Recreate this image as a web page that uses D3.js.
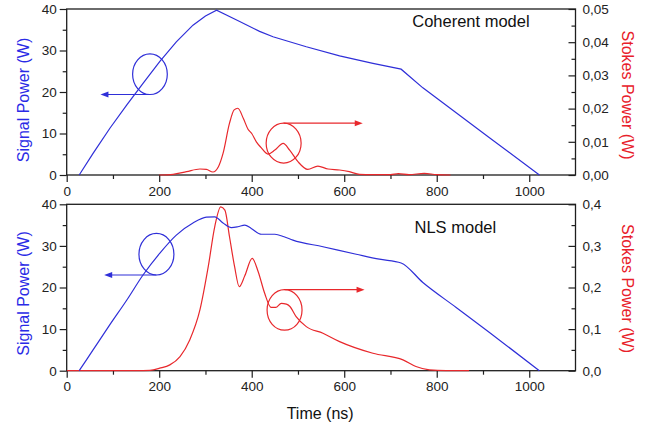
<!DOCTYPE html>
<html>
<head>
<meta charset="utf-8">
<script src="https://cdn.jsdelivr.net/npm/d3@7"></script>
<style>
  html, body { margin: 0; padding: 0; background: #fff; }
  svg { display: block; font-family: Arial, "Liberation Sans", sans-serif; }
</style>
</head>
<body>
<svg id="chart" width="656" height="429"></svg>
<script>
// ---- tick values ----
const timeMajorTicks = [0, 200, 400, 600, 800, 1000];
const timeMinorTicks = [100, 300, 500, 700, 900];
const signalMajorTicks = [0, 10, 20, 30, 40];
const signalMinorTicks = [5, 15, 25, 35];
const coherentStokesMajorTicks = [0, 0.01, 0.02, 0.03, 0.04, 0.05];
const coherentStokesMinorTicks = [0.005, 0.015, 0.025, 0.035, 0.045];
const nlsStokesMajorTicks = [0, 0.1, 0.2, 0.3, 0.4];
const nlsStokesMinorTicks = [0.05, 0.15, 0.25, 0.35];

// ---- series: [time (ns), power (W)] ----
const coherentSignal = [
  [27, 0], [57, 5.2], [93, 11.2], [130, 16.9], [165, 22.1], [201, 27.3],
  [237, 32.1], [273, 36.1], [300, 38.3], [324, 39.7], [374, 37.0], [417, 34.6],
  [446, 33.3], [518, 30.9], [590, 28.7], [662, 26.9], [723, 25.5], [770, 21.0],
  [842, 15.0], [914, 9.0], [1022, 0]
];
const coherentStokes = [
  [200, 0], [230, 0.0002], [259, 0.001], [288, 0.0018], [302, 0.0017], [316, 0.0009],
  [328, 0.0025], [338, 0.0065], [352, 0.0156], [362, 0.0196], [370, 0.0201],
  [382, 0.0170], [392, 0.0138], [400, 0.0125], [410, 0.0100], [420, 0.0083],
  [435, 0.0063], [450, 0.0075], [468, 0.0095], [482, 0.0075], [500, 0.0040],
  [521, 0.0017], [543, 0.0027], [565, 0.0018], [590, 0.0015], [611, 0.0010],
  [633, 0.0002], [660, 0.0001], [700, 0.0001], [717, 0.0004], [740, 0.0001],
  [773, 0.0005], [800, 0.0001], [830, 0]
];
const nlsSignal = [
  [27, 0], [57, 5.0], [93, 11.0], [130, 17.0], [165, 23.0], [201, 28.2],
  [237, 32.6], [273, 35.5], [302, 36.9], [320, 37.0], [338, 35.5], [356, 34.4],
  [370, 34.6], [385, 35.0], [399, 34.2], [421, 32.8], [450, 32.8], [470, 32.2],
  [489, 31.4], [554, 29.8], [626, 28.0], [676, 26.8], [723, 25.9], [770, 21.2],
  [842, 15.2], [914, 9.2], [1022, 0]
];
const nlsStokes = [
  [0, 0], [150, 0], [180, 0.001], [201, 0.006], [223, 0.014], [245, 0.034],
  [266, 0.074], [288, 0.146], [306, 0.25], [320, 0.346], [333, 0.394], [342, 0.386],
  [352, 0.322], [363, 0.25], [373, 0.202], [385, 0.228], [401, 0.27], [414, 0.238],
  [428, 0.186], [442, 0.152], [452, 0.152], [464, 0.162], [475, 0.160], [482, 0.155],
  [496, 0.130], [518, 0.106], [554, 0.090], [590, 0.070], [662, 0.042], [727, 0.026],
  [755, 0.010], [784, 0.002], [820, 0], [870, 0]
];

const BLUE = "#2f2fd8";
const RED = "#e8282c";
const AXIS = "#1e1e1e";

const commaLocale = d3.formatLocale({ decimal: ",", thousands: ".", grouping: [3], currency: ["", ""] });

const panels = [
  {
    name: "Coherent model", top: 9, bottom: 175,
    signal: coherentSignal, stokes: coherentStokes, stokesMax: 0.05,
    stokesMajor: coherentStokesMajorTicks, stokesMinor: coherentStokesMinorTicks,
    stokesFormat: commaLocale.format(".2f"),
    blueCircle: { t: 180, v: 24.3, rt: 37.5, rv: 4.9, tipT: 73 },
    redCircle: { t: 469, v: 0.0096, rt: 37.8, rv: 0.006, tipT: 640 },
    label: { t: 747, v: 35.6 }, titleShift: 8
  },
  {
    name: "NLS model", top: 204.3, bottom: 370.7,
    signal: nlsSignal, stokes: nlsStokes, stokesMax: 0.4,
    stokesMajor: nlsStokesMajorTicks, stokesMinor: nlsStokesMinorTicks,
    stokesFormat: commaLocale.format(".1f"),
    blueCircle: { t: 194, v: 28.0, rt: 37.8, rv: 5.0, tipT: 81 },
    redCircle: { t: 471, v: 0.146, rt: 37.8, rv: 0.0487, tipT: 644 },
    label: { t: 752, v: 33.0 }, titleShift: 6
  }
];

const svg = d3.select("#chart");
const left = 66.7, right = 575.5;
const x = d3.scaleLinear().domain([0, 1100]).range([left, right]);

panels.forEach((p, i) => {
  const y = d3.scaleLinear().domain([0, 40]).range([p.bottom, p.top]);
  const y2 = d3.scaleLinear().domain([0, p.stokesMax]).range([p.bottom, p.top]);
  const g = svg.append("g");

  const clipId = "clip" + i;
  g.append("clipPath").attr("id", clipId).append("rect")
    .attr("x", left).attr("y", p.top - 1).attr("width", right - left).attr("height", p.bottom - p.top + 2);

  // frame
  g.append("rect").attr("x", left).attr("y", p.top)
    .attr("width", right - left).attr("height", p.bottom - p.top)
    .attr("fill", "none").attr("stroke", AXIS).attr("stroke-width", 1.3);

  const styleAxis = sel => {
    sel.select(".domain").remove();
    sel.selectAll("line").attr("stroke", AXIS).attr("stroke-width", 1.2);
    sel.selectAll("text").attr("fill", "#222").style("font-size", "13.5px")
      .style("font-family", "Arial, 'Liberation Sans', sans-serif");
  };

  // bottom time axis
  g.append("g").attr("transform", `translate(0,${p.bottom})`)
    .call(d3.axisBottom(x).tickValues(timeMajorTicks).tickSize(7).tickPadding(4).tickFormat(d3.format("d")))
    .call(styleAxis);
  g.append("g").attr("transform", `translate(0,${p.bottom})`)
    .call(d3.axisBottom(x).tickValues(timeMinorTicks).tickSize(4).tickFormat(""))
    .call(styleAxis);

  // left signal axis
  g.append("g").attr("transform", `translate(${left},0)`)
    .call(d3.axisLeft(y).tickValues(signalMajorTicks).tickSize(7).tickPadding(3).tickFormat(d3.format("d")))
    .call(styleAxis);
  g.append("g").attr("transform", `translate(${left},0)`)
    .call(d3.axisLeft(y).tickValues(signalMinorTicks).tickSize(4).tickFormat(""))
    .call(styleAxis);

  // right Stokes axis (ticks point inward)
  g.append("g").attr("transform", `translate(${right},0)`)
    .call(d3.axisRight(y2).tickValues(p.stokesMajor).tickSize(-7).tickPadding(7).tickFormat(p.stokesFormat))
    .call(styleAxis);
  g.append("g").attr("transform", `translate(${right},0)`)
    .call(d3.axisRight(y2).tickValues(p.stokesMinor).tickSize(-4).tickFormat(""))
    .call(styleAxis);

  const plot = g.append("g").attr("clip-path", `url(#${clipId})`);

  // Stokes power curve
  plot.append("path").datum(p.stokes)
    .attr("fill", "none").attr("stroke", RED).attr("stroke-width", 1.2)
    .attr("d", d3.line().x(d => x(d[0])).y(d => y2(d[1])).curve(d3.curveMonotoneX));

  // signal power curve
  plot.append("path").datum(p.signal)
    .attr("fill", "none").attr("stroke", BLUE).attr("stroke-width", 1.2)
    .attr("d", d3.line().x(d => x(d[0])).y(d => y(d[1]))
      .curve(i === 0 ? d3.curveLinear : d3.curveMonotoneX));

  // circle-and-arrow markers pointing to the matching axis
  const marker = (c, ys, color, below) => {
    const cx = x(c.t), cy = ys(c.v);
    const rx = x(c.t + c.rt) - cx, ry = ys(c.v) - ys(c.v + c.rv);
    g.append("ellipse").attr("cx", cx).attr("cy", cy).attr("rx", rx).attr("ry", ry)
      .attr("fill", "none").attr("stroke", color).attr("stroke-width", 1.2);
    const ay = below ? cy + ry : cy - ry;
    const tip = x(c.tipT);
    const dir = tip < cx ? -1 : 1;
    g.append("line").attr("x1", cx).attr("y1", ay).attr("x2", tip - dir * 5).attr("y2", ay)
      .attr("stroke", color).attr("stroke-width", 1.2);
    g.append("path")
      .attr("d", `M${tip},${ay} L${tip - dir * 8},${ay - 3} L${tip - dir * 8},${ay + 3} Z`)
      .attr("fill", color);
  };
  marker(p.blueCircle, y, BLUE, true);
  marker(p.redCircle, y2, RED, false);

  // model name
  g.append("text").attr("x", x(p.label.t)).attr("y", y(p.label.v))
    .attr("fill", "#111").style("font-size", "16.5px").text(p.name);

  // axis titles
  const midY = (p.top + p.bottom) / 2 + p.titleShift;
  g.append("text").attr("transform", `translate(29,${midY}) rotate(-90)`)
    .attr("text-anchor", "middle").attr("fill", "#2a2ae6").style("font-size", "16px")
    .text("Signal Power (W)");
  g.append("text").attr("transform", `translate(622,${(p.top + p.bottom) / 2 + p.titleShift - 5}) rotate(90)`)
    .attr("text-anchor", "middle").attr("fill", "#e8202a").style("font-size", "16px")
    .text("Stokes Power (W)");
});

svg.append("text").attr("x", x(548)).attr("y", 419)
  .attr("text-anchor", "middle").attr("fill", "#111").style("font-size", "16px")
  .text("Time (ns)");
</script>
</body>
</html>
